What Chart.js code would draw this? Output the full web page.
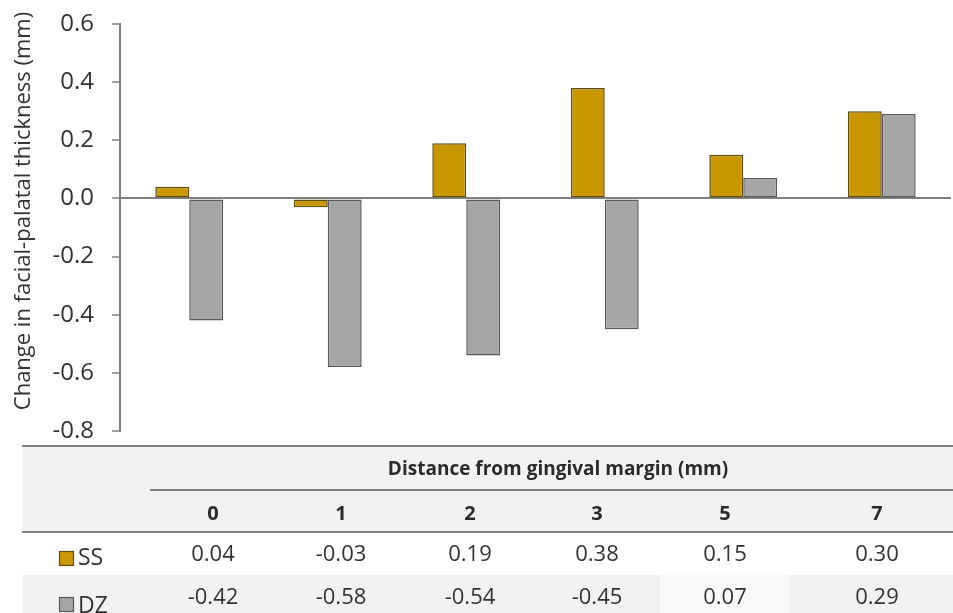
<!DOCTYPE html>
<html>
<head>
<meta charset="utf-8">
<script src="https://cdn.jsdelivr.net/npm/chart.js@4/dist/chart.umd.min.js"></script>
<style>
  html, body { margin: 0; padding: 0; background: #ffffff; }
  #wrap { width: 953px; height: 613px; position: relative; }
</style>
</head>
<body>
<div id="wrap"><canvas id="chart" width="953" height="613"></canvas></div>
<script>
// Distance from the gingival margin (mm)
const categories = ['0', '1', '2', '3', '5', '7'];
// Mean change in facial-palatal thickness (mm)
const ssValues = [0.04, -0.03, 0.19, 0.38, 0.15, 0.30];
const dzValues = [-0.42, -0.58, -0.54, -0.45, 0.07, 0.29];
const seriesNames = ['SS', 'DZ'];
const yTicks = [-0.8, -0.6, -0.4, -0.2, 0.0, 0.2, 0.4, 0.6];

const axisTitle = 'Change in facial-palatal thickness (mm)';
const tableHeader = 'Distance from gingival margin (mm)';

const GOLD = '#C99700', GOLD_EDGE = '#5f4d10';
const GREY = '#A6A6A6', GREY_EDGE = '#5a5a5a';
const LINE = '#808080';
const TEXT = '#333333';
const FONT = '"Open Sans", "Noto Sans", sans-serif';

// fixed column centres of the data table under the plot
const colX = [213, 341, 470, 597, 725, 877];

function fmt(v) { return v.toFixed(2); }

function text(ctx, str, x, cy, size, bold, align) {
  ctx.font = (bold ? 'bold ' : '') + size + 'px ' + FONT;
  ctx.textAlign = align || 'center';
  ctx.textBaseline = 'alphabetic';
  ctx.fillText(str, x, cy + 0.357 * size);
}

const tablePlugin = {
  id: 'dataTable',
  afterDraw(chart) {
    const ctx = chart.ctx;
    ctx.save();

    // rotated y axis title
    ctx.save();
    ctx.translate(22, 211);
    ctx.rotate(-Math.PI / 2);
    ctx.fillStyle = TEXT;
    text(ctx, axisTitle, 0, 0, 22, false, 'center');
    ctx.restore();

    // shaded header block
    ctx.fillStyle = '#f2f2f2';
    ctx.fillRect(22, 446, 931, 86);
    // shaded second data row
    ctx.fillRect(22, 575, 638, 38);
    ctx.fillRect(790, 575, 163, 38);
    ctx.fillStyle = '#f9f9f9';
    ctx.fillRect(660, 575, 130, 38);

    // rules
    ctx.strokeStyle = LINE;
    ctx.lineWidth = 2;
    ctx.beginPath();
    ctx.moveTo(22, 446); ctx.lineTo(953, 446);
    ctx.moveTo(150, 490); ctx.lineTo(953, 490);
    ctx.moveTo(22, 532); ctx.lineTo(953, 532);
    ctx.stroke();

    ctx.fillStyle = '#2b2b2b';
    text(ctx, tableHeader, 558, 468, 19, true, 'center');
    categories.forEach((c, i) => text(ctx, c, colX[i], 513, 20, true, 'center'));

    ctx.fillStyle = TEXT;
    ssValues.forEach((v, i) => text(ctx, fmt(v), colX[i], 553, 22, false, 'center'));
    dzValues.forEach((v, i) => text(ctx, fmt(v), colX[i], 596, 22, false, 'center'));

    // legend keys
    const keys = [[GOLD, GOLD_EDGE, 551], [GREY, GREY_EDGE, 597]];
    keys.forEach((k, i) => {
      ctx.fillStyle = k[0];
      ctx.fillRect(59, k[2], 15, 15);
      ctx.strokeStyle = k[1];
      ctx.lineWidth = 1.2;
      ctx.strokeRect(59.5, k[2] + 0.5, 14, 14);
      ctx.fillStyle = TEXT;
      text(ctx, seriesNames[i], 78, k[2] + 6 + (i ? 2 : 0), 23, false, 'left');
    });

    ctx.restore();
  }
};

new Chart(document.getElementById('chart'), {
  type: 'bar',
  data: {
    labels: categories,
    datasets: [
      { label: seriesNames[0], data: ssValues, backgroundColor: GOLD, borderColor: GOLD_EDGE, borderWidth: 1.5, borderSkipped: false },
      { label: seriesNames[1], data: dzValues, backgroundColor: GREY, borderColor: GREY_EDGE, borderWidth: 1.5, borderSkipped: false }
    ]
  },
  options: {
    responsive: false,
    animation: false,
    devicePixelRatio: 1,
    layout: { padding: { left: 0, top: 24, right: 2, bottom: 182 } },
    plugins: { legend: { display: false }, tooltip: { enabled: false } },
    datasets: { bar: { categoryPercentage: 0.49, barPercentage: 1.0 } },
    scales: {
      x: { display: false },
      y: {
        min: -0.8,
        max: 0.6,
        afterFit(scale) {
          scale.width = 120;
          scale.paddingTop = 0;
          scale.paddingBottom = 0;
        },
        afterBuildTicks(scale) { scale.ticks = yTicks.map(v => ({ value: v })); },
        border: { display: true, color: LINE, width: 2 },
        grid: {
          drawOnChartArea: true,
          color: c => (c.tick && Math.abs(c.tick.value) < 1e-9) ? LINE : 'rgba(0,0,0,0)',
          lineWidth: 2,
          tickColor: LINE,
          tickLength: 8,
          tickWidth: 1.5
        },
        ticks: {
          padding: 18,
          color: TEXT,
          font: { family: FONT, size: 24 },
          callback: v => Number(v).toFixed(1)
        }
      }
    }
  },
  plugins: [tablePlugin]
});
</script>
</body>
</html>
